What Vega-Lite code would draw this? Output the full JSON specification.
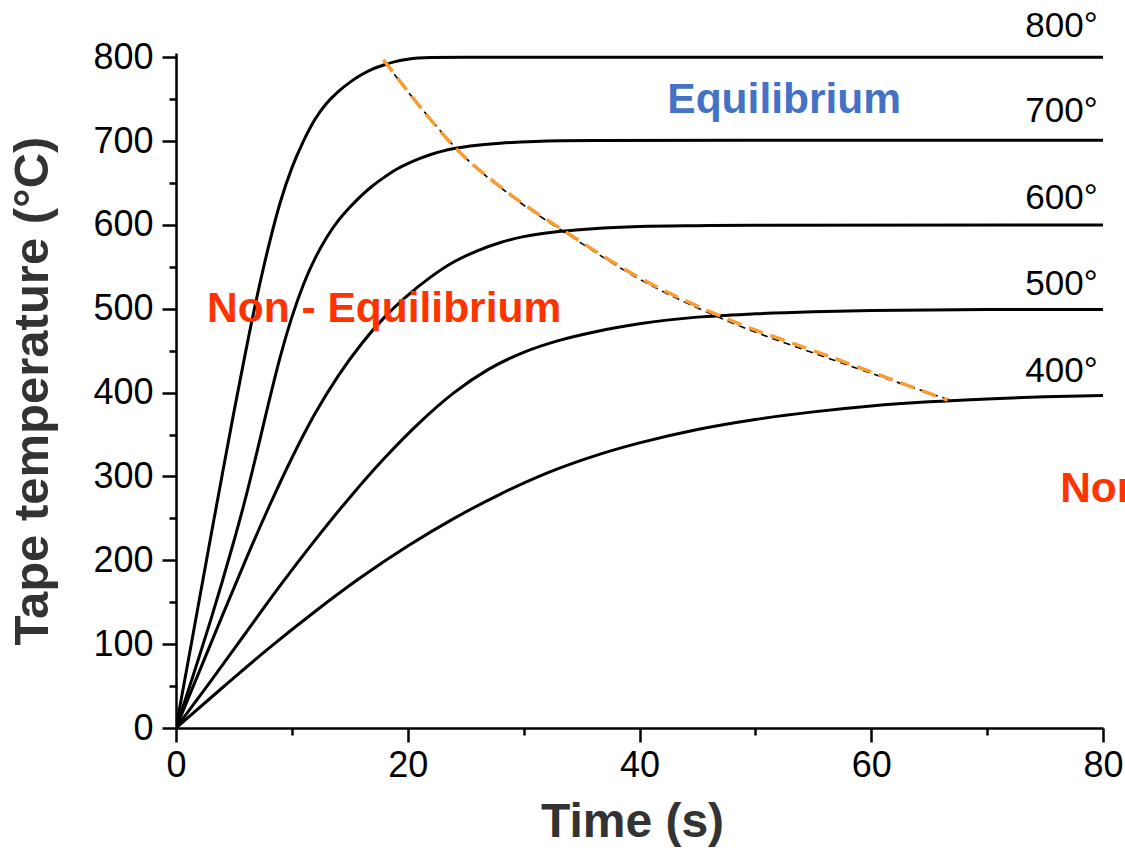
{
  "$schema": "https://vega.github.io/schema/vega-lite/v6.json",
  "width": 927,
  "height": 675,
  "autosize": {"type": "none"},
  "padding": {"left": 176, "top": 53, "right": 22, "bottom": 124},
  "config": {
    "view": {"stroke": null},
    "font": "Liberation Sans",
    "axis": {"grid": false, "domainColor": "#000000", "tickColor": "#000000", "labelColor": "#000000", "labelFont": "Liberation Sans", "titleFont": "Liberation Sans", "labelFlush": false, "labelOverlap": false}
  },
  "datasets": {
    "curves": [
      {"t": 0, "T": 0, "curve": "800"}, {"t": 1, "T": 76, "curve": "800"}, {"t": 2, "T": 152, "curve": "800"}, {"t": 3, "T": 228, "curve": "800"}, {"t": 4, "T": 303, "curve": "800"}, {"t": 5, "T": 377, "curve": "800"}, {"t": 6, "T": 448, "curve": "800"}, {"t": 7, "T": 515, "curve": "800"}, {"t": 8, "T": 575, "curve": "800"}, {"t": 9, "T": 627, "curve": "800"}, {"t": 10, "T": 668, "curve": "800"}, {"t": 11, "T": 700, "curve": "800"}, {"t": 12, "T": 726, "curve": "800"}, {"t": 13, "T": 745, "curve": "800"}, {"t": 14, "T": 759, "curve": "800"}, {"t": 15, "T": 770, "curve": "800"}, {"t": 16, "T": 779, "curve": "800"}, {"t": 17, "T": 786, "curve": "800"}, {"t": 18, "T": 791, "curve": "800"}, {"t": 19, "T": 795, "curve": "800"}, {"t": 20, "T": 797.5, "curve": "800"}, {"t": 22, "T": 799.5, "curve": "800"}, {"t": 25, "T": 800, "curve": "800"}, {"t": 40, "T": 800, "curve": "800"}, {"t": 80, "T": 800, "curve": "800"},
      {"t": 0, "T": 0, "curve": "700"}, {"t": 1, "T": 42, "curve": "700"}, {"t": 2, "T": 85, "curve": "700"}, {"t": 3, "T": 129, "curve": "700"}, {"t": 4, "T": 175, "curve": "700"}, {"t": 5, "T": 223, "curve": "700"}, {"t": 6, "T": 274, "curve": "700"}, {"t": 7, "T": 330, "curve": "700"}, {"t": 8, "T": 388, "curve": "700"}, {"t": 9, "T": 443, "curve": "700"}, {"t": 10, "T": 490, "curve": "700"}, {"t": 11, "T": 529, "curve": "700"}, {"t": 12, "T": 560, "curve": "700"}, {"t": 13, "T": 585, "curve": "700"}, {"t": 14, "T": 605, "curve": "700"}, {"t": 15, "T": 621, "curve": "700"}, {"t": 16, "T": 635, "curve": "700"}, {"t": 17, "T": 647, "curve": "700"}, {"t": 18, "T": 657, "curve": "700"}, {"t": 19, "T": 666, "curve": "700"}, {"t": 20, "T": 673, "curve": "700"}, {"t": 21, "T": 679, "curve": "700"}, {"t": 22, "T": 684, "curve": "700"}, {"t": 23, "T": 688, "curve": "700"}, {"t": 24, "T": 691, "curve": "700"}, {"t": 26, "T": 695, "curve": "700"}, {"t": 28, "T": 697.5, "curve": "700"}, {"t": 31, "T": 699.5, "curve": "700"}, {"t": 36, "T": 700.5, "curve": "700"}, {"t": 50, "T": 701, "curve": "700"}, {"t": 80, "T": 701, "curve": "700"},
      {"t": 0, "T": 0, "curve": "600"}, {"t": 2, "T": 67, "curve": "600"}, {"t": 4, "T": 134, "curve": "600"}, {"t": 6, "T": 200, "curve": "600"}, {"t": 8, "T": 263, "curve": "600"}, {"t": 10, "T": 322, "curve": "600"}, {"t": 12, "T": 375, "curve": "600"}, {"t": 14, "T": 420, "curve": "600"}, {"t": 16, "T": 458, "curve": "600"}, {"t": 18, "T": 490, "curve": "600"}, {"t": 20, "T": 516, "curve": "600"}, {"t": 22, "T": 538, "curve": "600"}, {"t": 24, "T": 556, "curve": "600"}, {"t": 26, "T": 569, "curve": "600"}, {"t": 28, "T": 579, "curve": "600"}, {"t": 30, "T": 586, "curve": "600"}, {"t": 33, "T": 592, "curve": "600"}, {"t": 36, "T": 595.5, "curve": "600"}, {"t": 40, "T": 598, "curve": "600"}, {"t": 45, "T": 599, "curve": "600"}, {"t": 50, "T": 599.5, "curve": "600"}, {"t": 80, "T": 600, "curve": "600"},
      {"t": 0, "T": 0, "curve": "500"}, {"t": 3, "T": 56, "curve": "500"}, {"t": 6, "T": 113, "curve": "500"}, {"t": 9, "T": 170, "curve": "500"}, {"t": 12, "T": 224, "curve": "500"}, {"t": 15, "T": 275, "curve": "500"}, {"t": 18, "T": 322, "curve": "500"}, {"t": 21, "T": 364, "curve": "500"}, {"t": 24, "T": 400, "curve": "500"}, {"t": 27, "T": 428, "curve": "500"}, {"t": 30, "T": 448, "curve": "500"}, {"t": 33, "T": 462, "curve": "500"}, {"t": 36, "T": 472, "curve": "500"}, {"t": 40, "T": 482, "curve": "500"}, {"t": 45, "T": 490, "curve": "500"}, {"t": 50, "T": 494, "curve": "500"}, {"t": 55, "T": 496.5, "curve": "500"}, {"t": 60, "T": 498, "curve": "500"}, {"t": 70, "T": 499, "curve": "500"}, {"t": 80, "T": 499, "curve": "500"},
      {"t": 0, "T": 0, "curve": "400"}, {"t": 4, "T": 48, "curve": "400"}, {"t": 8, "T": 95, "curve": "400"}, {"t": 12, "T": 139, "curve": "400"}, {"t": 16, "T": 180, "curve": "400"}, {"t": 20, "T": 217, "curve": "400"}, {"t": 24, "T": 250, "curve": "400"}, {"t": 28, "T": 279, "curve": "400"}, {"t": 32, "T": 304, "curve": "400"}, {"t": 36, "T": 324, "curve": "400"}, {"t": 40, "T": 340, "curve": "400"}, {"t": 45, "T": 356, "curve": "400"}, {"t": 50, "T": 368, "curve": "400"}, {"t": 55, "T": 377, "curve": "400"}, {"t": 60, "T": 384, "curve": "400"}, {"t": 65, "T": 389, "curve": "400"}, {"t": 70, "T": 392.5, "curve": "400"}, {"t": 75, "T": 395, "curve": "400"}, {"t": 80, "T": 396.5, "curve": "400"}
    ],
    "boundaryBlack": [
      {"t": 18.2, "T": 791}, {"t": 21.3, "T": 737}, {"t": 24.4, "T": 688}, {"t": 28.8, "T": 636}, {"t": 34.0, "T": 587}, {"t": 40.3, "T": 533}, {"t": 47.5, "T": 486}, {"t": 56.3, "T": 441}, {"t": 66.8, "T": 391}
    ],
    "boundaryOrange": [
      {"t": 17.9, "T": 797}, {"t": 21.0, "T": 742}, {"t": 24.1, "T": 692}, {"t": 28.5, "T": 640}, {"t": 33.7, "T": 591}, {"t": 40.0, "T": 537}, {"t": 47.2, "T": 490}, {"t": 56.0, "T": 445}, {"t": 66.6, "T": 391}
    ],
    "curveLabels": [
      {"t": 73.3, "T": 824, "label": "800°"},
      {"t": 73.3, "T": 722.7, "label": "700°"},
      {"t": 73.3, "T": 619, "label": "600°"},
      {"t": 73.3, "T": 516, "label": "500°"},
      {"t": 73.3, "T": 412.6, "label": "400°"}
    ],
    "eqLabels": [
      {"t": 42.4, "T": 733, "label": "Equilibrium"}
    ],
    "noneqLabels": [
      {"t": 2.68, "T": 484, "label": "Non - Equilibrium"},
      {"t": 76.3, "T": 269.5, "label": "Non - Equilibrium"}
    ]
  },
  "layer": [
    {
      "data": {"name": "curves"},
      "mark": {"type": "line", "color": "#000000", "strokeWidth": 3, "interpolate": "monotone", "clip": true},
      "encoding": {
        "x": {"field": "t", "type": "quantitative", "scale": {"domain": [0, 80], "nice": false, "zero": false},
          "axis": {"orient": "bottom", "values": [0, 20, 40, 60, 80], "tickSize": 14, "tickWidth": 2.5, "domainWidth": 2.5, "labelFontSize": 36, "labelPadding": 6, "title": "Time (s)", "titleFontSize": 48, "titleFontWeight": "bold", "titleColor": "#333333", "titlePadding": 15, "titleX": 456}},
        "y": {"field": "T", "type": "quantitative", "scale": {"domain": [0, 805], "nice": false, "zero": false},
          "axis": {"orient": "left", "values": [0, 100, 200, 300, 400, 500, 600, 700, 800], "tickSize": 14, "tickWidth": 2.5, "domainWidth": 2.5, "labelFontSize": 36, "labelPadding": 9, "title": "Tape temperature (°C)", "titleFontSize": 49, "titleFontWeight": "bold", "titleColor": "#333333", "titlePadding": 35}},
        "detail": {"field": "curve", "type": "nominal"}
      }
    },
    {
      "data": {"name": "boundaryBlack"},
      "mark": {"type": "line", "color": "#000000", "strokeWidth": 1.6, "strokeDash": [7, 5], "interpolate": "monotone"},
      "encoding": {
        "x": {"field": "t", "type": "quantitative", "axis": {"orient": "bottom", "values": [10, 30, 50, 70], "tickSize": 7, "tickWidth": 2.5, "domain": false, "labels": false, "title": null}},
        "y": {"field": "T", "type": "quantitative", "axis": {"orient": "left", "values": [50, 150, 250, 350, 450, 550, 650, 750], "tickSize": 7, "tickWidth": 2.5, "domain": false, "labels": false, "title": null}}
      }
    },
    {
      "data": {"name": "boundaryOrange"},
      "mark": {"type": "line", "color": "#F89C33", "strokeWidth": 3.5, "strokeDash": [15, 8], "interpolate": "monotone"},
      "encoding": {
        "x": {"field": "t", "type": "quantitative", "axis": null},
        "y": {"field": "T", "type": "quantitative", "axis": null}
      }
    },
    {
      "data": {"name": "curveLabels"},
      "mark": {"type": "text", "align": "left", "baseline": "alphabetic", "fontSize": 35, "color": "#000000", "font": "Liberation Sans"},
      "encoding": {
        "x": {"field": "t", "type": "quantitative", "axis": null},
        "y": {"field": "T", "type": "quantitative", "axis": null},
        "text": {"field": "label"}
      }
    },
    {
      "data": {"name": "eqLabels"},
      "mark": {"type": "text", "align": "left", "baseline": "alphabetic", "fontSize": 42.5, "fontWeight": "bold", "color": "#4472C4", "font": "Liberation Sans"},
      "encoding": {
        "x": {"field": "t", "type": "quantitative", "axis": null},
        "y": {"field": "T", "type": "quantitative", "axis": null},
        "text": {"field": "label"}
      }
    },
    {
      "data": {"name": "noneqLabels"},
      "mark": {"type": "text", "align": "left", "baseline": "alphabetic", "fontSize": 42.5, "fontWeight": "bold", "color": "#FF3300", "font": "Liberation Sans"},
      "encoding": {
        "x": {"field": "t", "type": "quantitative", "axis": null},
        "y": {"field": "T", "type": "quantitative", "axis": null},
        "text": {"field": "label"}
      }
    }
  ],
  "resolve": {"axis": {"x": "independent", "y": "independent"}}
}
